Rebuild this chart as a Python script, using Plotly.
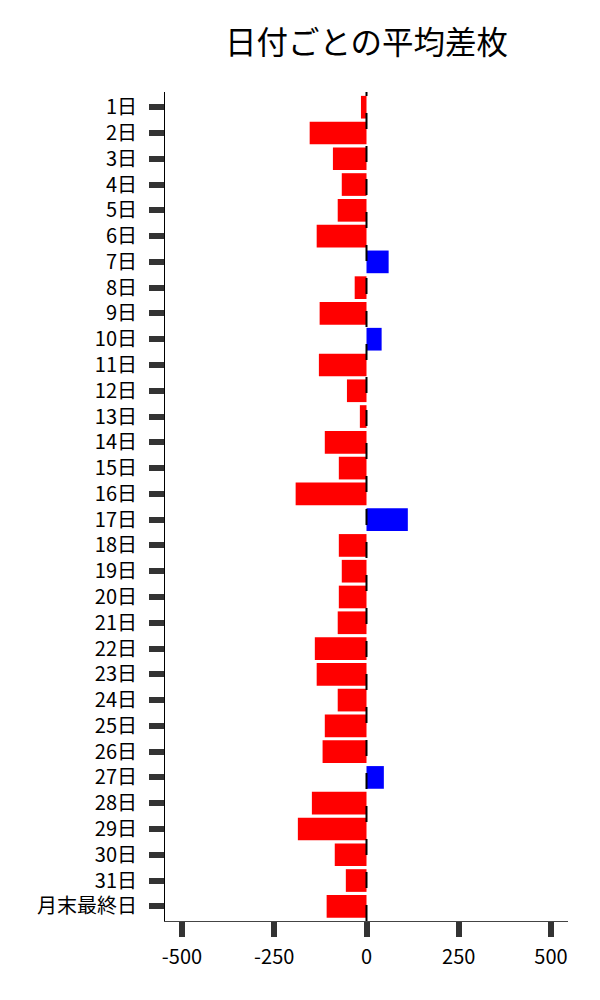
'''Average difference per day of month as horizontal bars.'''

import plotly.graph_objects as go

days = [f'{d}日' for d in range(1, 32)] + ['月末最終日']
avg_diff = [
    -15, -154, -91, -67, -78, -135, 60, -32,
    -127, 41, -129, -53, -18, -113, -75, -192,
    112, -75, -67, -75, -78, -140, -135, -78,
    -113, -119, 47, -148, -186, -86, -56, -108,
]
x_ticks = [-500, -250, 0, 250, 500]
x_tick_labels = ['-500', '-250', '0', '250', '500']

FONT = 'Noto Sans CJK JP'


def main():
    '''Main driver.'''
    colors = ['#0000ff' if v > 0 else '#ff0000' for v in avg_diff]
    fig = go.Figure(go.Bar(
        x=avg_diff,
        y=days,
        orientation='h',
        marker={'color': colors, 'line': {'width': 0}},
    ))
    fig.add_vline(x=0, line={'color': 'black', 'width': 2, 'dash': '16px,17px'})
    fig.update_layout(
        width=600,
        height=1000,
        margin={'l': 157, 'r': 40, 't': 84, 'b': 87},
        plot_bgcolor='white',
        paper_bgcolor='white',
        bargap=0.12,
        showlegend=False,
        font={'family': FONT, 'size': 19, 'color': 'black'},
        title={
            'text': '日付ごとの平均差枚',
            'x': 0.5,
            'xref': 'paper',
            'y': 0.965,
            'yanchor': 'middle',
            'font': {'family': FONT, 'size': 31.5, 'color': 'black'},
        },
        xaxis={
            'range': [-546, 546],
            'tickvals': x_ticks,
            'ticktext': x_tick_labels,
            'ticks': 'outside',
            'ticklen': 15,
            'tickwidth': 5.5,
            'tickcolor': '#333333',
            'ticklabelstandoff': 3,
            'showline': True,
            'linecolor': '#444444',
            'linewidth': 1,
            'showgrid': False,
            'zeroline': False,
            'tickfont': {'family': FONT, 'size': 20},
        },
        yaxis={
            'range': [31.57, -0.59],
            'ticks': 'outside',
            'ticklen': 15,
            'tickwidth': 5.5,
            'tickcolor': '#333333',
            'ticklabelstandoff': 8,
            'showline': True,
            'linecolor': 'black',
            'linewidth': 1,
            'showgrid': False,
            'zeroline': False,
            'tickfont': {'family': FONT, 'size': 20},
        },
    )
    fig.write_html('out.html')


if __name__ == '__main__':
    main()
